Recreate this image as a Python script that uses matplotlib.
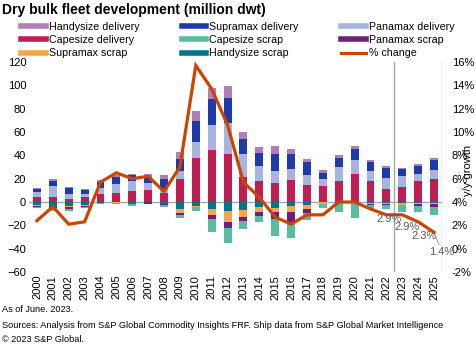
import matplotlib
matplotlib.use('Agg')
import matplotlib.pyplot as plt
from matplotlib.lines import Line2D
import numpy as np

plt.rcParams['font.family'] = ['Liberation Sans', 'DejaVu Sans']

years = [str(y) for y in range(2000, 2026)]

# deliveries (million dwt)
cape_del = [4.5, 4.5, 2.6, 4.3, 6.9, 8.0, 9.4, 10.3, 8.0, 19.7, 37.7, 44.6, 41.0,
            21.4, 18.0, 16.3, 18.9, 14.6, 13.7, 18.0, 24.0, 18.0, 11.1, 12.9, 18.0, 19.7]
pan_del = [4.3, 8.9, 4.3, 2.6, 5.4, 7.4, 8.9, 6.3, 3.0, 6.9, 13.7, 21.4, 26.6,
           19.7, 12.9, 10.3, 9.4, 8.6, 6.0, 12.0, 12.0, 8.6, 9.4, 9.4, 6.0, 7.7]
supra_del = [2.6, 4.9, 5.1, 3.4, 4.9, 5.7, 4.9, 5.1, 8.5, 10.3, 18.0, 22.3, 21.4,
             12.9, 11.1, 14.6, 12.9, 11.1, 5.1, 7.7, 9.4, 7.7, 8.6, 6.0, 6.9, 8.6]
handy_del = [0.9, 1.7, 0.9, 0.9, 1.7, 2.0, 0.9, 2.3, 3.5, 6.0, 8.6, 9.4, 10.3,
             6.0, 5.1, 6.9, 4.3, 2.6, 2.6, 2.6, 2.6, 1.7, 1.7, 0.9, 1.7, 1.7]

# scrapping (million dwt, negative)
handy_scr = [-2.5, -4.0, -3.4, -2.6, -0.9, 0.0, -2.0, -0.3, -1.4, -6.0, -3.1, -6.0, -7.7,
             -6.9, -4.3, -5.1, -3.4, -2.6, -0.3, -0.9, -1.1, -0.9, -0.9, -0.9, -0.9, -0.9]
supra_scr = [-0.8, -0.5, -0.6, -0.9, 0.0, -1.1, 0.0, 0.0, -0.6, -3.4, -1.1, -5.1, -9.4,
             -6.0, -4.3, -3.4, -5.1, -3.4, -1.1, -0.3, -0.6, -0.9, -0.9, -1.7, -0.9, -1.1]
pan_scr = [-0.8, -1.0, -2.0, -0.9, 0.0, 0.0, 0.0, -1.0, -0.6, -1.7, 0.0, -3.4, -5.1,
           -3.4, -3.4, -6.0, -8.6, -3.1, 0.0, 0.0, -0.3, -0.9, -0.9, -0.3, -1.7, -2.3]
cape_scr = [-1.0, -2.0, -1.4, -0.9, -0.9, -0.6, -1.0, 0.0, -2.0, -2.6, -3.4, -11.1, -12.9,
            -6.9, -5.1, -14.6, -13.7, -6.3, -4.0, -7.5, -11.7, -3.4, -3.4, -6.0, -5.1, -6.9]

# fleet growth, % y/y
pct_change = [2.4, 3.6, 2.1, 2.3, 5.7, 6.5, 6.0, 6.2, 4.9, 7.0, 15.7, 13.7, 10.6,
              5.7, 4.4, 2.7, 2.1, 2.9, 2.9, 4.0, 4.0, 3.4, 2.9, 2.9, 2.3, 1.4]

c_handy_del = '#b07fb8'
c_supra_del = '#1f3aa8'
c_pan_del = '#a8b4e0'
c_cape_del = '#be1e52'
c_cape_scr = '#58bc9f'
c_pan_scr = '#6e1f7e'
c_supra_scr = '#f2a74b'
c_handy_scr = '#08728a'
c_line = '#cc4400'
grey = '#a6a6a6'

fig = plt.figure(figsize=(4.76, 3.46), dpi=100)
ax = fig.add_axes([29 / 476, 74 / 346, 413 / 476, 210 / 346])

x = np.arange(len(years))
w = 0.5

bottom = np.zeros(len(x))
for vals, col in [(cape_del, c_cape_del), (pan_del, c_pan_del),
                  (supra_del, c_supra_del), (handy_del, c_handy_del)]:
    ax.bar(x, vals, w, bottom=bottom, color=col, zorder=2)
    bottom += np.array(vals)

bottom = np.zeros(len(x))
for vals, col in [(handy_scr, c_handy_scr), (supra_scr, c_supra_scr),
                  (pan_scr, c_pan_scr), (cape_scr, c_cape_scr)]:
    ax.bar(x, vals, w, bottom=bottom, color=col, zorder=2)
    bottom += np.array(vals)

ax.axhline(0, color=grey, lw=1, zorder=1)
for xv in (22.5, 25.5):
    ax.axvline(xv, color=grey, lw=1, zorder=1)

ax.set_xlim(-0.5, 25.5)
ax.set_ylim(-60, 120)
ax.set_yticks(range(-60, 121, 20))
ax.set_xticks(x)
ax.set_xticklabels(years, rotation=90)
ax.tick_params(axis='both', length=0, labelsize=8, pad=2)
for s in ax.spines.values():
    s.set_visible(False)

ax2 = ax.twinx()
ax2.plot(x, pct_change, color=c_line, lw=2.3, solid_joinstyle='miter', zorder=3)
ax2.set_ylim(-2, 16)
ax2.set_yticks(range(-2, 17, 2))
ax2.set_yticklabels([f'{v}%' for v in range(-2, 17, 2)])
ax2.tick_params(axis='y', length=0, labelsize=8, pad=7)
for s in ax2.spines.values():
    s.set_visible(False)

# data labels for the forecast years (offsets in points)
label_offsets = {22: (2, -3), 23: (3.6, -8.8), 24: (4.3, -10.4), 25: (5.8, -14.4)}
for i, (dx, dy) in label_offsets.items():
    arrow = dict(arrowstyle='-', color=grey, lw=0.8, shrinkA=0, shrinkB=4) if i == 25 else None
    ax2.annotate(f'{pct_change[i]}%', (x[i], pct_change[i]), xytext=(dx, dy),
                 textcoords='offset points', ha='center', va='center',
                 fontsize=8, color='#595959', arrowprops=arrow)

fig.text(468 / 476, 1 - 170 / 346, 'y/y growth', rotation=90, ha='center',
         va='center', fontsize=8)

fig.text(2 / 476, 1 - 10 / 346, 'Dry bulk fleet development (million dwt)',
         fontsize=10, fontweight='bold', va='center')

handles = [
    Line2D([0], [0], color=c_handy_del, lw=4),
    Line2D([0], [0], color=c_cape_del, lw=4),
    Line2D([0], [0], color=c_supra_scr, lw=4),
    Line2D([0], [0], color=c_supra_del, lw=4),
    Line2D([0], [0], color=c_cape_scr, lw=4),
    Line2D([0], [0], color=c_handy_scr, lw=4),
    Line2D([0], [0], color=c_pan_del, lw=4),
    Line2D([0], [0], color=c_pan_scr, lw=4),
    Line2D([0], [0], color=c_line, lw=2.3),
]
labels = ['Handysize delivery', 'Capesize delivery', 'Supramax scrap',
          'Supramax delivery', 'Capesize scrap', 'Handysize scrap',
          'Panamax delivery', 'Panamax scrap', '% change']
fig.legend(handles, labels, ncol=3, loc='upper left',
           bbox_to_anchor=(21 / 476, 1 - 22 / 346), frameon=False,
           fontsize=7.7, handlelength=2.3, handletextpad=0.3,
           columnspacing=3.95, labelspacing=0.3, borderpad=0, borderaxespad=0)

fig.text(2 / 476, 1 - 310 / 346, 'As of June. 2023.', fontsize=6.6, va='center')
fig.text(2 / 476, 1 - 326 / 346,
         'Sources: Analysis from S&P Global Commodity Insights FRF. Ship data from S&P Global Market Intelligence',
         fontsize=6.6, va='center')
fig.text(2 / 476, 1 - 339 / 346, '\u00a9 2023 S&P Global.', fontsize=6.6, va='center')

fig.savefig('out.png', dpi=100)
